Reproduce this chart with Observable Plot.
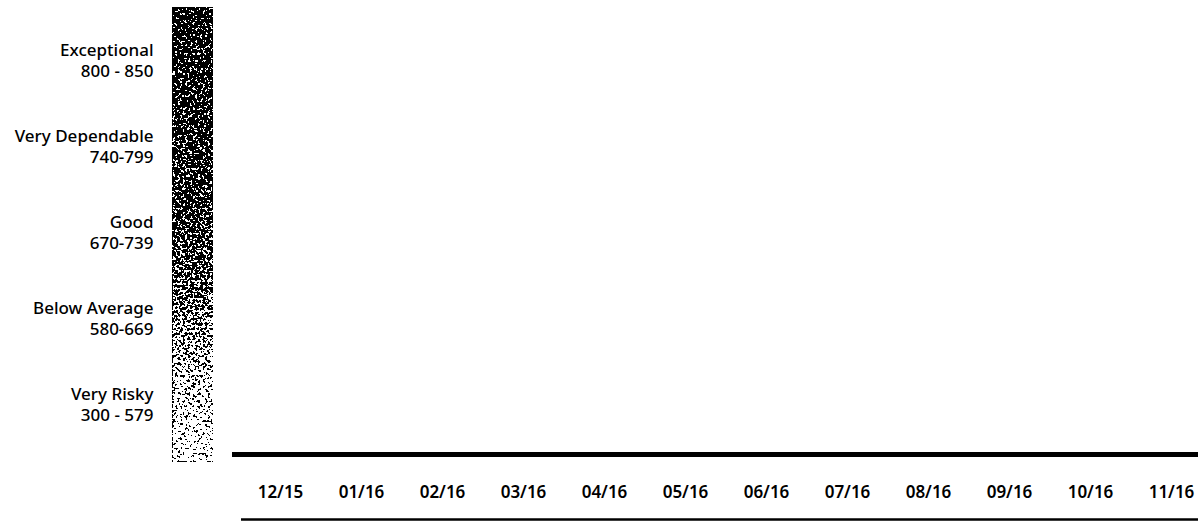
<!DOCTYPE html>
<html>
<head>
<meta charset="utf-8">
<script src="https://cdn.jsdelivr.net/npm/d3@7"></script>
<script src="https://cdn.jsdelivr.net/npm/@observablehq/plot@0.6"></script>
<style>
  html, body { margin: 0; padding: 0; background: #fff; }
  #chart { display: flex; flex-direction: row; align-items: flex-start; width: 1198px; height: 531px; overflow: hidden; }
  #chart svg { display: block; flex: none; }
</style>
</head>
<body>
<div id="chart"></div>
<script>
// ---- data ----
const months = ["12/15", "01/16", "02/16", "03/16", "04/16", "05/16", "06/16", "07/16", "08/16", "09/16", "10/16", "11/16"];
const categories = ["Exceptional", "Very Dependable", "Good", "Below Average", "Very Risky"];
const scoreRanges = ["800 - 850", "740-799", "670-739", "580-669", "300 - 579"];
const scoreDomain = [300, 850];
const baselineScore = [300];

const font = "'Noto Sans', 'DejaVu Sans', sans-serif";
const container = document.getElementById("chart");

// ---- left: rating scale with gradient bar ----
const left = Plot.plot({
  width: 213,
  height: 531,
  marginLeft: 172,
  marginRight: 0,
  marginTop: 7,
  marginBottom: 70,
  style: { fontFamily: font, fontSize: "17px", color: "#000", background: "transparent" },
  x: { axis: null },
  y: { type: "band", domain: categories, range: [16, 446], padding: 0, axis: null },
  marks: [
    Plot.frame({ fill: "url(#scoreGrad)", stroke: null }),
    Plot.text(categories, {
      y: d => d,
      text: (d, i) => d + "\n" + scoreRanges[i],
      frameAnchor: "left",
      textAnchor: "end",
      dx: -19,
      lineHeight: 1.27,
      fontSize: 17,
      fontWeight: 500,
      fill: "#000"
    })
  ]
});
d3.select(left).insert("defs", ":first-child").html(`
  <linearGradient id="scoreGrad" x1="0" y1="0" x2="0" y2="1">
    <stop offset="0" stop-color="#2a2a2a"/>
    <stop offset="0.45" stop-color="#4a4a4a"/>
    <stop offset="0.62" stop-color="#6a6a6a"/>
    <stop offset="0.75" stop-color="#9a9a9a"/>
    <stop offset="0.88" stop-color="#c0c0c0"/>
    <stop offset="1" stop-color="#d6d6d6"/>
  </linearGradient>
  <filter id="speckle" x="0" y="0" width="100%" height="100%" color-interpolation-filters="sRGB">
    <feTurbulence type="fractalNoise" baseFrequency="0.4" numOctaves="2" seed="7" result="noise"/>
    <feColorMatrix in="noise" type="matrix"
      values="2.5 0 0 0 -0.75  2.5 0 0 0 -0.75  2.5 0 0 0 -0.75  0 0 0 0 1" result="gnoise"/>
    <feComposite in="SourceGraphic" in2="gnoise" operator="arithmetic" k1="0" k2="1" k3="1" k4="-0.5" result="sum"/>
    <feComponentTransfer in="sum">
      <feFuncR type="discrete" tableValues="0 1"/>
      <feFuncG type="discrete" tableValues="0 1"/>
      <feFuncB type="discrete" tableValues="0 1"/>
      <feFuncA type="discrete" tableValues="1 1"/>
    </feComponentTransfer>
  </filter>`);
d3.select(left).selectAll('[fill="url(#scoreGrad)"]').attr("filter", "url(#speckle)");
container.appendChild(left);

// ---- right: timeline axis ----
const right = Plot.plot({
  width: 985,
  height: 531,
  marginLeft: 19,
  marginRight: 0,
  marginTop: 13,
  marginBottom: 77,
  style: { fontFamily: font, fontSize: "17px", color: "#000", background: "transparent" },
  x: { type: "point", domain: months, range: [62, 963], padding: 0, label: null },
  y: { domain: scoreDomain, axis: null },
  marks: [
    Plot.ruleY(baselineScore, { stroke: "#000", strokeWidth: 5 }),
    Plot.ruleY(baselineScore, { stroke: "#000", strokeWidth: 2.5, dy: 65, insetLeft: 9 }),
    Plot.axisX({ tickSize: 0, tickPadding: 31, fontSize: 17, fontWeight: 600, label: null, fill: "#000" })
  ]
});
container.appendChild(right);
</script>
</body>
</html>
